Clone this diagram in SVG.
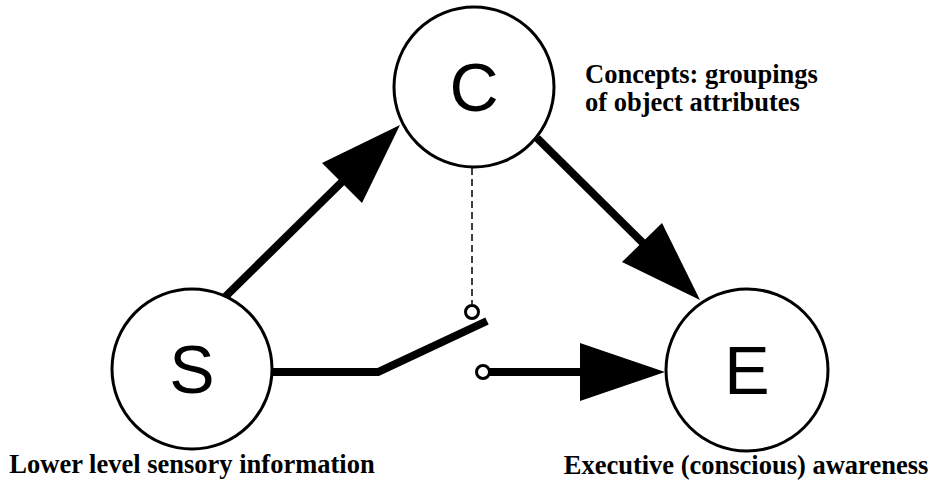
<svg xmlns="http://www.w3.org/2000/svg" width="934" height="480" viewBox="0 0 934 480">
  <defs>
    <style>
      .node { fill: #fff; stroke: #000; stroke-width: 3; }
      .letter { font-family: "Liberation Sans", Arial, sans-serif; font-size: 68px; text-anchor: middle; fill: #000; }
      .label { font-family: "Liberation Serif", "Times New Roman", serif; font-weight: bold; font-size: 26.5px; fill: #000; }
      .wire { fill: none; stroke: #000; stroke-width: 8; }
      .head { fill: #000; stroke: none; }
      .dash { fill: none; stroke: #000; stroke-width: 1.5; stroke-dasharray: 7 4; }
      .term { fill: #fff; stroke: #000; stroke-width: 3; }
    </style>
  </defs>

  <g id="connectors">
    <!-- S to C -->
    <line class="wire" x1="225" y1="297" x2="350" y2="174"/>
    <polygon class="head" points="400,125 322,163 362,203"/>
    <!-- C to E -->
    <line class="wire" x1="537" y1="138" x2="650" y2="250"/>
    <polygon class="head" points="700,300 622,262 662,223"/>
    <!-- S to open switch -->
    <polyline class="wire" points="272,372 378,372 487,321"/>
    <!-- control link from C to the switch -->
    <line class="dash" x1="472" y1="168" x2="472" y2="304"/>
    <!-- switch output to E -->
    <line class="wire" x1="483" y1="372" x2="590" y2="372"/>
    <polygon class="head" points="665,372 580,343 580,401"/>
    <circle class="term" cx="472" cy="312" r="6.5"/>
    <circle class="term" cx="483" cy="372" r="6.5"/>
  </g>

  <g id="node-C">
    <circle class="node" cx="474" cy="87" r="80"/>
    <text class="letter" x="474" y="111">C</text>
  </g>
  <g id="node-S">
    <circle class="node" cx="192" cy="369" r="80"/>
    <text class="letter" x="192" y="393">S</text>
  </g>
  <g id="node-E">
    <circle class="node" cx="747" cy="370" r="81"/>
    <text class="letter" x="747" y="394">E</text>
  </g>

  <g id="labels">
    <text class="label" x="585" y="83">Concepts: groupings</text>
    <text class="label" x="585" y="111">of object attributes</text>
    <text class="label" x="192" y="473" text-anchor="middle">Lower level sensory information</text>
    <text class="label" x="746" y="474" text-anchor="middle">Executive (conscious) awareness</text>
  </g>
</svg>
